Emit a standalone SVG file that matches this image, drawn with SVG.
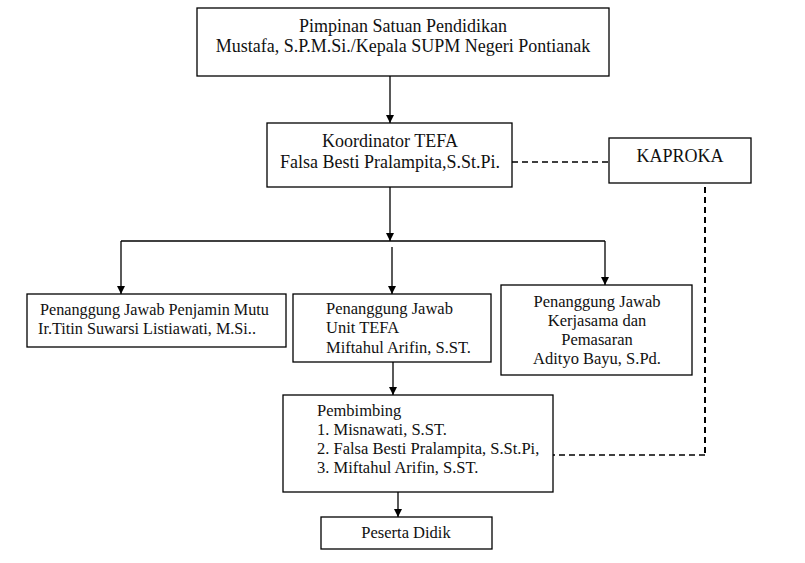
<svg xmlns="http://www.w3.org/2000/svg" width="805" height="563" viewBox="0 0 805 563">
<defs>
<marker id="arr" markerWidth="8" markerHeight="10" refX="8" refY="4" orient="auto" markerUnits="userSpaceOnUse">
<path d="M0,0 L8,4 L0,8 Z" fill="#000"/>
</marker>
<style>
.box{fill:#fff;stroke:#000;stroke-width:1.3}
.t{font-family:"Liberation Serif","Times New Roman",serif;font-size:16.5px;fill:#111}
.big{font-size:18px}
.sm{font-size:16.2px}
.c{text-anchor:middle}
.ln{fill:none;stroke:#000;stroke-width:1.3}
.dash{fill:none;stroke:#000;stroke-width:1.3;stroke-dasharray:6,4}
.dash2{fill:none;stroke:#000;stroke-width:2;stroke-dasharray:6,4}
</style>
</defs>
<rect width="805" height="563" fill="#fff"/>
<g id="connectors">
<path class="ln" d="M390,76 V123" marker-end="url(#arr)"/>
<path class="ln" d="M390,187 V241" marker-end="url(#arr)"/>
<path class="ln" d="M121,241 H605"/>
<path class="ln" d="M121,241 V294" marker-end="url(#arr)"/>
<path class="ln" d="M392,247 V294" marker-end="url(#arr)"/>
<path class="ln" d="M605,241 V285" marker-end="url(#arr)"/>
<path class="ln" d="M393,362 V395" marker-end="url(#arr)"/>
<path class="ln" d="M398,492 V517" marker-end="url(#arr)"/>
<path class="dash" d="M512,162 H609"/>
<path class="dash2" d="M705,187 V455"/>
<path class="dash" d="M705,455 H553"/>
</g>
<g id="pimpinan">
<rect class="box" x="197" y="8" width="412" height="68"/>
<text class="t big c" x="403" y="32">Pimpinan Satuan Pendidikan</text>
<text class="t big c" x="403" y="52">Mustafa, S.P.M.Si./Kepala SUPM Negeri Pontianak</text>
</g>
<g id="koordinator">
<rect class="box" x="267" y="123" width="245" height="64"/>
<text class="t big c" x="390" y="147">Koordinator TEFA</text>
<text class="t big c" x="390" y="168">Falsa Besti Pralampita,S.St.Pi.</text>
</g>
<g id="kaproka">
<rect class="box" x="609" y="138" width="142" height="45"/>
<text class="t big c" x="680" y="162">KAPROKA</text>
</g>
<g id="penjamin">
<rect class="box" x="27" y="294" width="259" height="53"/>
<text class="t sm" x="40" y="315">Penanggung Jawab Penjamin Mutu</text>
<text class="t sm" x="38" y="334">Ir.Titin Suwarsi Listiawati, M.Si..</text>
</g>
<g id="unit">
<rect class="box" x="293" y="294" width="198" height="68"/>
<text class="t" x="326" y="314">Penanggung Jawab</text>
<text class="t" x="326" y="333">Unit TEFA</text>
<text class="t" x="326" y="353">Miftahul Arifin, S.ST.</text>
</g>
<g id="kerjasama">
<rect class="box" x="501" y="285" width="191" height="90"/>
<text class="t c" x="597" y="307">Penanggung Jawab</text>
<text class="t c" x="597" y="326">Kerjasama dan</text>
<text class="t c" x="597" y="345">Pemasaran</text>
<text class="t c" x="597" y="364">Adityo Bayu, S.Pd.</text>
</g>
<g id="pembimbing">
<rect class="box" x="283" y="395" width="270" height="97"/>
<text class="t" x="317" y="416">Pembimbing</text>
<text class="t" x="317" y="435">1. Misnawati, S.ST.</text>
<text class="t" x="317" y="454">2. Falsa Besti Pralampita, S.St.Pi,</text>
<text class="t" x="317" y="473">3. Miftahul Arifin, S.ST.</text>
</g>
<g id="peserta">
<rect class="box" x="321" y="517" width="171" height="32"/>
<text class="t c" x="406" y="538">Peserta Didik</text>
</g>
</svg>
